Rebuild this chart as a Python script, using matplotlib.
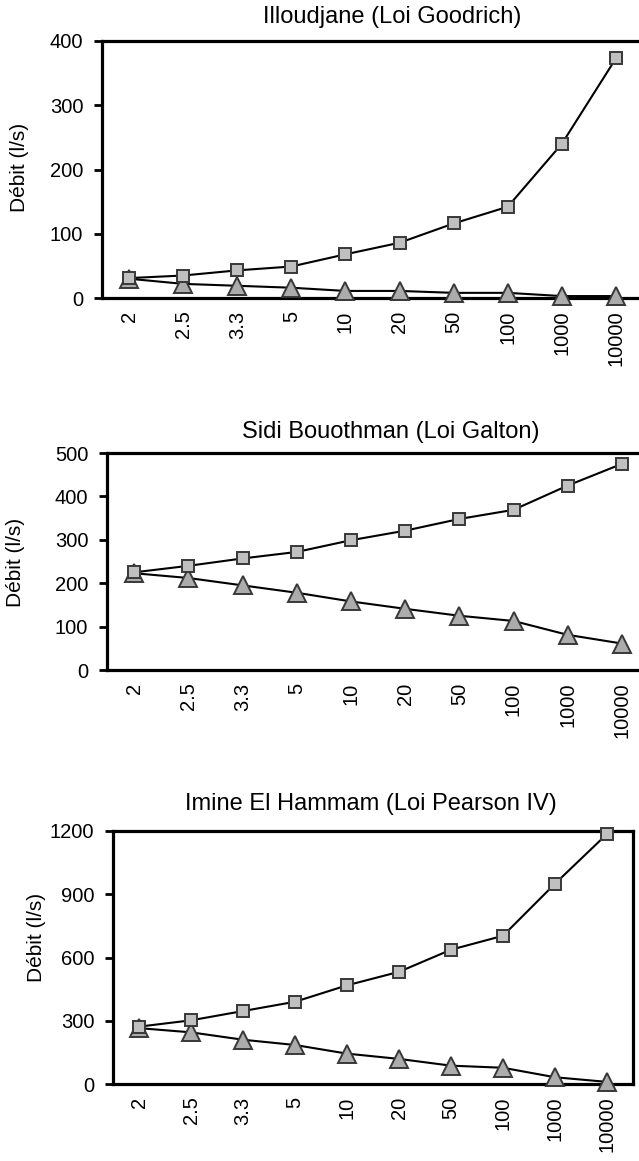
import matplotlib
matplotlib.use("Agg")
import matplotlib.pyplot as plt

plt.rcParams['font.family'] = ['Liberation Sans', 'DejaVu Sans']

periods = ["2", "2.5", "3.3", "5", "10", "20", "50", "100", "1000", "10000"]

titles = ["Illoudjane (Loi Goodrich)",
          "Sidi Bouothman (Loi Galton)",
          "Imine El Hammam (Loi Pearson IV)"]

illoudjane_sq = [31, 35, 43, 49, 68, 86, 116, 142, 240, 373]
illoudjane_tri = [30, 22, 19, 16, 11, 11, 8, 8, 3, 3]

sidi_sq = [225, 240, 257, 272, 299, 321, 348, 369, 425, 475]
sidi_tri = [223, 212, 195, 178, 158, 141, 125, 113, 81, 61]

imine_sq = [272, 302, 346, 390, 468, 532, 637, 703, 950, 1186]
imine_tri = [265, 245, 210, 185, 144, 119, 87, 77, 32, 10]

ylims = [(0, 400), (0, 500), (0, 1200)]
yticks = [[0, 100, 200, 300, 400], [0, 100, 200, 300, 400, 500],
          [0, 300, 600, 900, 1200]]

W, H = 639, 1161
fig = plt.figure(figsize=(W / 100, H / 100), dpi=100)

# axes boxes in pixels: left, right, top, bottom
boxes = [(102, 643, 41, 298), (107, 649, 453, 670), (113, 633, 831, 1084)]
title_pos = [(392, 23), (391, 438), (371, 810)]
ylabel_pos = [(20, 167), (16, 562), (36, 937)]

series = [(illoudjane_sq, illoudjane_tri), (sidi_sq, sidi_tri), (imine_sq, imine_tri)]

x = list(range(1, len(periods) + 1))

for i in range(3):
    l, r, t, b = boxes[i]
    ax = fig.add_axes([l / W, 1 - b / H, (r - l) / W, (b - t) / H])
    sq, tri = series[i]
    ax.plot(x, tri, color='black', lw=1.5, marker='^', markersize=12.5,
            markerfacecolor='#acacac', markeredgecolor='#383838',
            markeredgewidth=1.4, clip_on=False, zorder=3)
    ax.plot(x, sq, color='black', lw=1.5, marker='s', markersize=9.3,
            markerfacecolor='#c0c0c0', markeredgecolor='#383838',
            markeredgewidth=1.4, clip_on=False, zorder=4)
    ax.set_xlim(0.5, len(periods) + 0.5)
    ax.set_ylim(*ylims[i])
    ax.set_yticks(yticks[i])
    ax.set_xticks(x)
    ax.set_xticklabels(periods, rotation=90, ha='center', va='top')
    ax.tick_params(axis='x', length=0, pad=9, labelsize=14.5)
    ax.tick_params(axis='y', length=5.5, width=2, pad=8, labelsize=14.5,
                   direction='out')
    for s in ax.spines.values():
        s.set_linewidth(2.3)
        s.set_color('black')
    tx, ty = title_pos[i]
    fig.text(tx / W, 1 - ty / H, titles[i], ha='center', va='baseline',
             fontsize=17)
    lx, ly = ylabel_pos[i]
    fig.text(lx / W, 1 - ly / H, "Débit (l/s)", rotation=90, ha='center',
             va='center', fontsize=15)

fig.savefig("out.png", dpi=100)
